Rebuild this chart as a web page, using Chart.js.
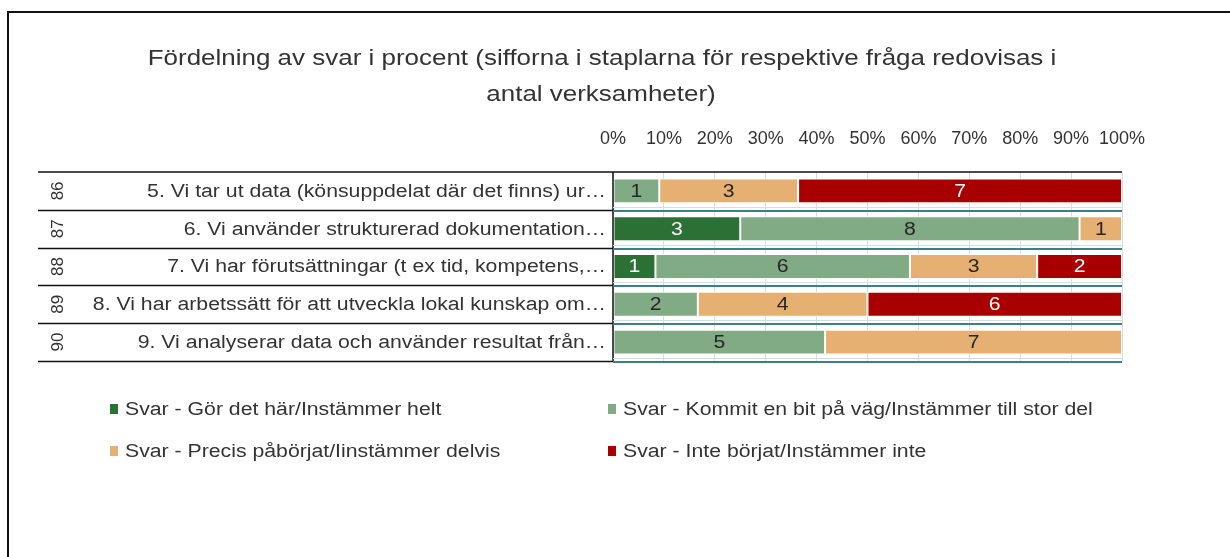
<!DOCTYPE html>
<html lang="sv">
<head>
<meta charset="utf-8">
<title>Fördelning av svar i procent</title>
<script src="https://cdn.jsdelivr.net/npm/chart.js@4.4.1/dist/chart.umd.min.js"></script>
<style>
  html, body { margin: 0; padding: 0; background: #fff; }
  canvas { display: block; }
</style>
</head>
<body>
<canvas id="diagram" width="1230" height="557"></canvas>
<script>
// frågor (avkortade som i originalet) och radnummer
const fragor = [
  "5. Vi tar ut data (könsuppdelat där det finns) ur…",
  "6. Vi använder strukturerad dokumentation…",
  "7. Vi har förutsättningar (t ex tid, kompetens,…",
  "8. Vi har arbetssätt för att utveckla lokal kunskap om…",
  "9. Vi analyserar data och använder resultat från…"
];
const radnummer = ["86", "87", "88", "89", "90"];

// antal verksamheter per svarsalternativ
const gorDetHar = [0, 3, 1, 0, 0];
const kommitEnBit = [1, 8, 6, 2, 5];
const precisPaborjat = [3, 1, 3, 4, 7];
const inteBorjat = [7, 0, 2, 6, 0];

const serienamn = [
  "Svar - Gör det här/Instämmer helt",
  "Svar - Kommit en bit på väg/Instämmer till stor del",
  "Svar - Precis påbörjat/Iinstämmer delvis",
  "Svar - Inte börjat/Instämmer inte"
];
const farger = ["#2b7135", "#80ab85", "#e5b071", "#a80000"];
const textfarger = ["#ffffff", "#262626", "#262626", "#ffffff"];

const titelRader = [
  "Fördelning av svar i procent (sifforna i staplarna för respektive fråga redovisas i",
  "antal verksamheter)"
];
const xTicks = [0, 10, 20, 30, 40, 50, 60, 70, 80, 90, 100];

const FONT = "'Liberation Sans', Arial, sans-serif";
const STRACK = 1.18; // texten i originalet är något utdragen på bredden
const serier = [gorDetHar, kommitEnBit, precisPaborjat, inteBorjat];
const summor = fragor.map((_, i) => serier.reduce((s, arr) => s + arr[i], 0));

function text(ctx, t, x, y, align) {
  ctx.save();
  ctx.translate(x, y);
  ctx.scale(STRACK, 1);
  ctx.textAlign = align;
  ctx.fillText(t, 0, 0);
  ctx.restore();
}

const tabell = {
  id: "tabell",
  beforeDraw(chart) {
    const ctx = chart.ctx;
    ctx.save();
    ctx.fillStyle = "#fff";
    ctx.fillRect(0, 0, chart.width, chart.height);
    ctx.restore();
  },
  afterDraw(chart) {
    const { ctx, chartArea: a, scales: { y } } = chart;
    const n = fragor.length;
    const radH = (a.bottom - a.top) / n;
    ctx.save();

    // ram runt diagrammet
    ctx.strokeStyle = "#111";
    ctx.lineWidth = 2;
    ctx.beginPath();
    ctx.moveTo(8, 557); ctx.lineTo(8, 12); ctx.lineTo(1230, 12);
    ctx.stroke();

    // tabellinjer till vänster
    ctx.lineWidth = 1.5;
    ctx.beginPath();
    ctx.moveTo(38, a.top); ctx.lineTo(a.right, a.top);
    for (let i = 1; i <= n; i++) {
      const yy = Math.round(a.top + i * radH) + 0.5;
      ctx.moveTo(38, yy); ctx.lineTo(a.left, yy);
    }
    ctx.moveTo(a.left, a.top); ctx.lineTo(a.left, a.bottom);
    ctx.stroke();

    // dubbla linjer under staplarna
    for (let i = 1; i <= n; i++) {
      const yy = Math.round(a.top + i * radH);
      ctx.strokeStyle = "#cfe0e4";
      ctx.lineWidth = 1;
      ctx.beginPath(); ctx.moveTo(a.left, yy - 2.5); ctx.lineTo(a.right, yy - 2.5); ctx.stroke();
      ctx.strokeStyle = "#3b7f8e";
      ctx.lineWidth = 2;
      ctx.beginPath(); ctx.moveTo(a.left, yy + 1); ctx.lineTo(a.right, yy + 1); ctx.stroke();
    }

    // frågetexter, från y-skalans positioner
    ctx.fillStyle = "#333";
    ctx.font = "18px " + FONT;
    ctx.textBaseline = "middle";
    chart.data.labels.forEach((lab, i) => {
      text(ctx, lab, a.left - 7, y.getPixelForValue(i) + 1, "right");
    });

    // roterade radnummer
    ctx.font = "17px " + FONT;
    ctx.textAlign = "center";
    radnummer.forEach((t, i) => {
      ctx.save();
      ctx.translate(58, y.getPixelForValue(i));
      ctx.rotate(-Math.PI / 2);
      ctx.fillText(t, 0, 0);
      ctx.restore();
    });

    // siffror i staplarna
    ctx.font = "18px " + FONT;
    chart.data.datasets.forEach((ds, d) => {
      const meta = chart.getDatasetMeta(d);
      meta.data.forEach((el, i) => {
        const v = serier[d][i];
        if (!v) return;
        ctx.fillStyle = textfarger[d];
        text(ctx, String(v), (el.x + el.base) / 2, el.y + 1, "center");
      });
    });

    // titel
    ctx.fillStyle = "#333";
    ctx.font = "22px " + FONT;
    text(ctx, titelRader[0], 602, 59, "center");
    text(ctx, titelRader[1], 601, 95, "center");

    // förklaring
    const pos = [[110, 409], [608, 409], [110, 451], [608, 451]];
    ctx.font = "18px " + FONT;
    serienamn.forEach((namn, k) => {
      const [x, yy] = pos[k];
      ctx.fillStyle = farger[k];
      ctx.fillRect(x, yy - 5, 8, 10);
      ctx.fillStyle = "#333";
      text(ctx, namn, x + 15, yy + 1, "left");
    });
    ctx.restore();
  }
};

new Chart(document.getElementById("diagram"), {
  type: "bar",
  data: {
    labels: fragor,
    datasets: serienamn.map((namn, k) => ({
      label: namn,
      data: serier[k].map((v, i) => v / summor[i] * 100),
      backgroundColor: farger[k],
      borderColor: "#ffffff",
      borderWidth: 1,
      borderSkipped: false,
      barPercentage: 0.66,
      categoryPercentage: 1
    }))
  },
  options: {
    indexAxis: "y",
    responsive: false,
    animation: false,
    layout: { padding: { top: 120, right: 108, bottom: 196, left: 0 } },
    plugins: {
      legend: { display: false },
      title: { display: false },
      tooltip: { enabled: false }
    },
    scales: {
      x: {
        position: "top",
        stacked: true,
        min: 0,
        max: 100,
        afterBuildTicks: s => { s.ticks = xTicks.map(v => ({ value: v })); },
        afterFit: s => { s.height = 52; },
        grid: { color: "#dcdcdc", drawTicks: false },
        border: { display: false },
        ticks: {
          padding: 22,
          maxRotation: 0,
          color: "#333",
          font: { family: FONT, size: 18 },
          callback: v => v + "%"
        }
      },
      y: {
        stacked: true,
        afterFit: s => { s.width = 613; },
        grid: { display: false },
        border: { display: false },
        ticks: { display: false }
      }
    }
  },
  plugins: [tabell]
});
</script>
</body>
</html>
